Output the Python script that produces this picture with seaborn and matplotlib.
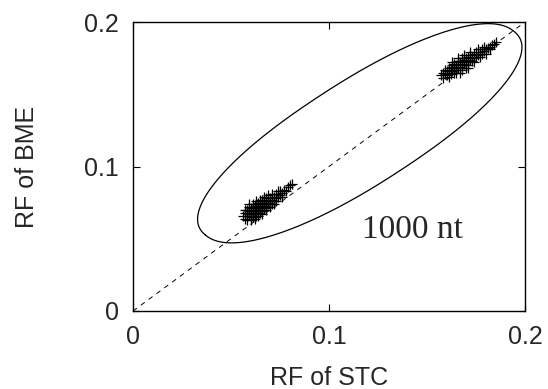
import numpy as np
import matplotlib
matplotlib.use("Agg")
import matplotlib.pyplot as plt
import seaborn as sns
import pandas as pd

# lower cluster (RF of STC, RF of BME)
stc_a = [0.056,0.057,0.057,0.058,0.058,0.059,0.059,0.060,0.060,0.060,0.061,0.061,0.061,0.062,0.062,0.062,0.063,0.063,0.063,0.063,
         0.064,0.064,0.064,0.064,0.065,0.065,0.065,0.066,0.066,0.066,0.066,0.067,0.067,0.067,0.068,0.068,0.068,0.069,0.069,0.070,
         0.070,0.071,0.071,0.072,0.072,0.073,0.073,0.074,0.075,0.075,0.076,0.077,0.078,0.079,0.080,0.081,0.076,0.062,0.068,0.059,
         0.057,0.058,0.059,0.060,0.061,0.062,0.063,0.064,0.065,0.066,0.067,0.068,0.069,0.070,0.071,0.072,0.073,0.074,0.065,0.061,
         0.063,0.067,0.060,0.058,0.064]
bme_a = [0.066,0.064,0.068,0.066,0.070,0.067,0.069,0.065,0.068,0.071,0.067,0.070,0.072,0.068,0.070,0.073,0.066,0.069,0.071,0.074,
         0.068,0.071,0.073,0.075,0.070,0.072,0.074,0.069,0.072,0.075,0.077,0.071,0.074,0.076,0.073,0.075,0.078,0.074,0.076,0.075,
         0.078,0.074,0.077,0.076,0.079,0.078,0.081,0.079,0.080,0.083,0.082,0.084,0.083,0.086,0.087,0.088,0.079,0.064,0.070,0.072,
         0.070,0.063,0.074,0.063,0.074,0.066,0.076,0.066,0.077,0.067,0.079,0.071,0.080,0.072,0.081,0.074,0.076,0.083,0.068,0.065,
         0.072,0.073,0.066,0.068,0.070]
# upper cluster
stc_b = [0.157,0.158,0.158,0.159,0.160,0.160,0.161,0.161,0.162,0.162,0.163,0.163,0.164,0.164,0.164,0.165,0.165,0.166,0.166,0.166,
         0.167,0.167,0.168,0.168,0.168,0.169,0.169,0.170,0.170,0.171,0.171,0.171,0.172,0.172,0.173,0.173,0.174,0.174,0.175,0.175,
         0.176,0.177,0.178,0.178,0.179,0.180,0.181,0.182,0.183,0.184,0.185,0.163,0.170,0.167,
         0.159,0.161,0.163,0.165,0.166,0.168,0.169,0.171,0.172,0.174,0.176,0.177,0.179,0.180,0.182]
bme_b = [0.163,0.161,0.165,0.164,0.163,0.166,0.165,0.168,0.164,0.167,0.166,0.169,0.165,0.168,0.171,0.167,0.170,0.168,0.171,0.173,
         0.169,0.172,0.170,0.173,0.175,0.171,0.174,0.172,0.175,0.170,0.173,0.176,0.174,0.177,0.173,0.176,0.175,0.178,0.176,0.179,
         0.177,0.179,0.178,0.181,0.180,0.181,0.182,0.183,0.184,0.185,0.186,0.172,0.168,0.165,
         0.167,0.162,0.170,0.165,0.175,0.167,0.177,0.168,0.179,0.172,0.181,0.176,0.183,0.178,0.181]

ticks = [0, 0.1, 0.2]
tick_labels = ["0", "0.1", "0.2"]
annotation = "1000 nt"

# enclosing loop: center and two conjugate semi-axis vectors (data units)
loop_center = (0.1157, 0.1230)
loop_u = (-0.0787, -0.0705)
loop_v = (-0.0220, 0.0245)
loop_power = 2.2

sns.set_theme(style="ticks")
plt.rcParams['font.family'] = ['Liberation Sans', 'DejaVu Sans']
fig = plt.figure(figsize=(5.48, 3.89), dpi=100)
ax = fig.add_axes([133/548, 78/389, 392/548, 289/389])

df = pd.DataFrame({"stc": stc_a + stc_b, "bme": bme_a + bme_b})
sns.scatterplot(data=df, x="stc", y="bme", marker="+", color="black", s=55, linewidth=0.9, ax=ax)

sns.lineplot(x=[0, 0.2], y=[0, 0.2], ax=ax, color="black", lw=0.7, dashes=False, linestyle=(0, (5, 5)))

t = np.linspace(0, 2*np.pi, 400)
fc = np.sign(np.cos(t)) * np.abs(np.cos(t)) ** (2/loop_power)
fs = np.sign(np.sin(t)) * np.abs(np.sin(t)) ** (2/loop_power)
lx = loop_center[0] + loop_u[0]*fc + loop_v[0]*fs
ly = loop_center[1] + loop_u[1]*fc + loop_v[1]*fs
ax.plot(lx, ly, color="black", lw=0.9)

ax.text(0.1168, 0.0505, annotation, family=["Liberation Serif", "DejaVu Serif"], fontsize=24,
        ha="left", va="baseline")

ax.set_xlim(0, 0.2); ax.set_ylim(0, 0.2)
ax.set_xticks(ticks); ax.set_yticks(ticks)
ax.set_xticklabels(tick_labels); ax.set_yticklabels(tick_labels)
ax.tick_params(direction="in", length=5, width=0.8, top=True, right=True, labelsize=18, pad=10, color="black")
for s in ax.spines.values():
    s.set_linewidth(1.0); s.set_color("black")
ax.set_xlabel("RF of STC", fontsize=18, labelpad=12)
ax.set_ylabel("RF of BME", fontsize=18, labelpad=33)
fig.savefig("out.png", dpi=100)
